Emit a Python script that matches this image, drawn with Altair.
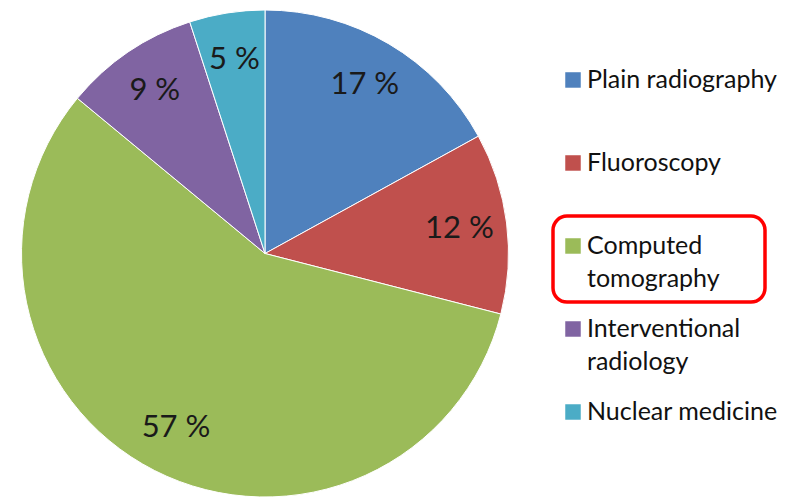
import altair as alt
import pandas as pd

categories = ["Plain radiography", "Fluoroscopy", "Computed tomography",
              "Interventional radiology", "Nuclear medicine"]
legend_labels = ["Plain radiography", "Fluoroscopy", "Computed\ntomography",
                 "Interventional\nradiology", "Nuclear medicine"]
values = [17, 12, 57, 9, 5]
colors = ["#4F81BD", "#C0504D", "#9BBB59", "#8064A2", "#4BACC6"]
highlighted = ["Computed tomography"]

df = pd.DataFrame({
    "category": categories,
    "legend": legend_labels,
    "value": values,
    "order": list(range(len(categories))),
})

FONT = "Lato"
color_scale = alt.Scale(domain=categories, range=colors)

cx, cy, R = 257, 243.5, 243.5

base = alt.Chart(df).encode(
    theta=alt.Theta("value:Q", stack=True),
    order=alt.Order("order:Q"),
    x=alt.value(cx),
    y=alt.value(cy),
)

arcs = base.mark_arc(radius=R, stroke="white", strokeWidth=1).encode(
    color=alt.Color("category:N", scale=color_scale, legend=None)
)

labels = base.transform_calculate(
    lbl="datum.value + ' %'"
).mark_text(radius=196, font=FONT, fontSize=31, color="#1a1a1a",
            align="center", baseline="middle").encode(text="lbl:N")

pie = alt.layer(arcs, labels).properties(width=537, height=485)

# custom legend (rows laid out by legend order)
ysc = alt.Scale(domain=[-0.843, 5.0], nice=False, zero=False, reverse=True)
lbase = alt.Chart(df).encode(
    y=alt.Y("order:Q", scale=ysc, axis=None)
)
squares = lbase.mark_square(size=240, opacity=1).encode(
    x=alt.value(28),
    color=alt.Color("category:N", scale=color_scale, legend=None),
)
ltext = lbase.mark_text(font=FONT, fontSize=25, color="#111111", align="left",
                        baseline="alphabetic", dy=8.5, lineBreak="\n",
                        lineHeight=33).encode(
    x=alt.value(42), text="legend:N"
)
box = alt.Chart(df).transform_filter(
    alt.FieldOneOfPredicate(field="category", oneOf=highlighted)
).transform_calculate(
    top="datum.order - 0.36", bottom="datum.order + 0.675"
).mark_rect(fill=None, stroke="#FF0000", strokeWidth=3.5, cornerRadius=14).encode(
    x=alt.value(8), x2=alt.value(220),
    y=alt.Y("top:Q", scale=ysc, axis=None), y2="bottom:Q",
)
legend = alt.layer(box, squares, ltext).properties(width=236, height=485)

chart = alt.hconcat(pie, legend, spacing=0).properties(
    padding=0
).configure_view(stroke=None).configure_concat(spacing=0)

chart.save("out.html", embed_options={"renderer": "svg", "actions": False})
